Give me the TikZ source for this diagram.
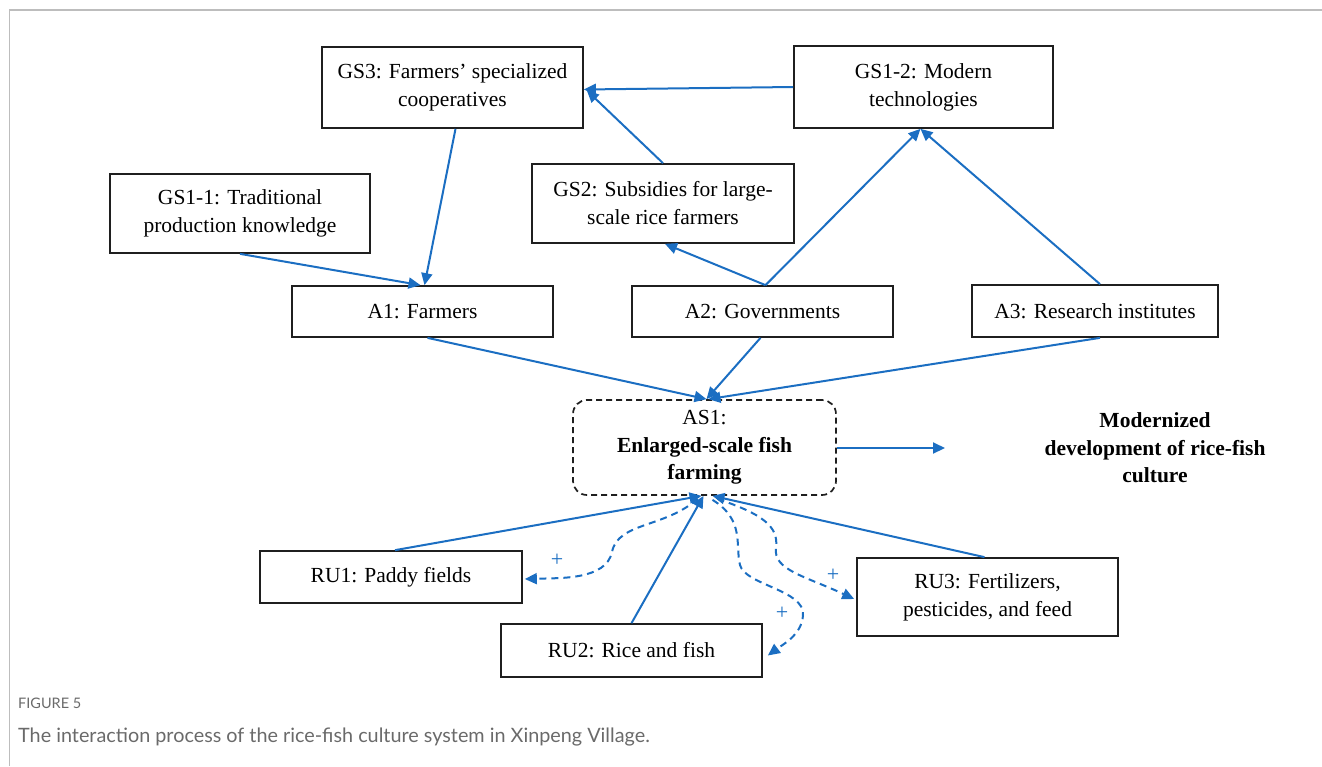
\documentclass[tikz,border=0pt]{standalone}
\usepackage{fontspec}
\setmainfont{Liberation Serif}
\newfontfamily\capfont{Lato}
\usetikzlibrary{arrows.meta}
\definecolor{flowblue}{HTML}{1B6EC2}
\definecolor{capgray}{HTML}{6A6A6A}
\definecolor{framegray}{HTML}{BDBDBD}
\begin{document}
\begin{tikzpicture}[x=1pt,y=-1pt,
  box/.style={draw=black!88,line width=1.7pt,fill=white,inner sep=0pt,align=center,
    minimum width=261pt,font=\fontsize{21.5}{28}\selectfont},
  link/.style={draw=flowblue,line width=2pt,-{Triangle[length=12pt,width=11pt]}},
  feedback/.style={link,dash pattern=on 7pt off 5pt},
  plus/.style={text=flowblue,font=\fontsize{22}{22}\selectfont,inner sep=0pt}]
\useasboundingbox (0,0) rectangle (1322,766);
% frame of the figure panel
\draw[framegray,line width=1.5pt] (9.5,766) -- (9.5,10) -- (1322,10);

% top row: goods and services
\node[box,minimum height=81pt] (gs3) at (452.5,87.5) {GS3: Farmers' specialized\\cooperatives};
\node[box,minimum width=259pt,minimum height=82pt] (gs12) at (923.5,87) {GS1-2: Modern\\technologies};
\node[box,minimum width=260pt,minimum height=79pt] (gs11) at (240,213.5) {GS1-1: Traditional\\production knowledge};
\node[box,minimum width=262pt,minimum height=79pt] (gs2) at (663,203.5) {GS2: Subsidies for large-\\scale rice farmers};

% actors
\node[box,minimum height=51pt] (a1) at (422.5,311.5) {A1: Farmers};
\node[box,minimum height=51pt] (a2) at (762.5,311.5) {A2: Governments};
\node[box,minimum width=246pt,minimum height=52pt] (a3) at (1095,311) {A3: Research institutes};

% action situation
\node[box,dashed,dash pattern=on 6pt off 4pt,rounded corners=14pt,minimum width=263pt,minimum height=95pt,
  font=\fontsize{21.5}{27.5}\selectfont] (as1) at (704.5,447.5)
  {AS1:\\\textbf{Enlarged-scale fish}\\\textbf{farming}};
\node[align=center,inner sep=0pt,font=\bfseries\fontsize{21.5}{27.5}\selectfont] (goal) at (1155,448)
  {Modernized\\development of rice-fish\\culture};
\coordinate (goalin) at (945,448);

% resource units
\node[box,minimum width=262pt,minimum height=52pt] (ru1) at (391,577) {RU1: Paddy fields};
\node[box,minimum height=53pt] (ru2) at (631.5,650.5) {RU2: Rice and fish};
\node[box,minimum height=78pt] (ru3) at (987.5,597) {RU3: Fertilizers,\\pesticides, and feed};

% connectors among the upper boxes
\draw[link] (gs12.west) -- ([yshift=-2pt]gs3.east);
\draw[link] (gs2.north) -- ([xshift=3pt,yshift=-3pt]gs3.east);
\draw[link] ([xshift=3pt]gs3.south) -- ([xshift=2pt]a1.north);
\draw[link] (gs11.south) -- ([xshift=-2pt]a1.north);
\draw[link] ([xshift=3pt]a2.north) -- ([xshift=2pt]gs2.south);
\draw[link] ([xshift=3pt]a2.north) -- ([xshift=-3pt]gs12.south);
\draw[link] ([xshift=5pt]a3.north) -- ([xshift=-3pt]gs12.south);

% actors into the action situation
\draw[link] ([xshift=5pt]a1.south) -- ([xshift=2pt]as1.north);
\draw[link] ([xshift=-2pt]a2.south) -- ([xshift=2pt]as1.north);
\draw[link] ([xshift=5pt]a3.south) -- ([xshift=4pt]as1.north);
\draw[link] ([yshift=-0.5pt]as1.east) -- (goalin);

% resource units into the action situation
\draw[link] ([xshift=4pt]ru1.north) -- ([xshift=-3pt]as1.south);
\draw[link] (ru2.north) -- ([xshift=-1pt]as1.south);
\draw[link] ([xshift=-3pt]ru3.north) -- ([xshift=8pt]as1.south);

% positive feedback loops
\draw[feedback] ([xshift=-7pt,yshift=-3pt]as1.south) .. controls (665,528) and (618,522) .. (612,552)
  .. controls (606,580) and (560,578) .. ([xshift=2pt,yshift=-2pt]ru1.east);
\draw[feedback] ([xshift=13pt,yshift=-3pt]as1.south) .. controls (762,514) and (779,526) .. (776,548)
  .. controls (773,570) and (805,576) .. ([xshift=-2pt,yshift=-2pt]ru3.west);
\draw[feedback] ([xshift=8pt,yshift=-4pt]as1.south) .. controls (745,520) and (735,545) .. (740,565)
  .. controls (745,585) and (805,590) .. (803,615)
  .. controls (802,635) and (782,645) .. ([xshift=5pt,yshift=-5pt]ru2.east);
\node[plus] (p1) at (557,560) {+};
\node[plus] (p3) at (833,575) {+};
\node[plus] (p2) at (782,613) {+};

% caption
\node[anchor=base west,inner sep=0pt,font=\capfont\fontsize{14.5}{15}\selectfont,text=capgray] (fig) at (18,708) {FIGURE 5};
\node[anchor=base west,inner sep=0pt,font=\capfont\fontsize{19.8}{20}\selectfont,text=capgray] (cap) at (18,742)
  {The interaction process of the rice-fish culture system in Xinpeng Village.};
\end{tikzpicture}
\end{document}
